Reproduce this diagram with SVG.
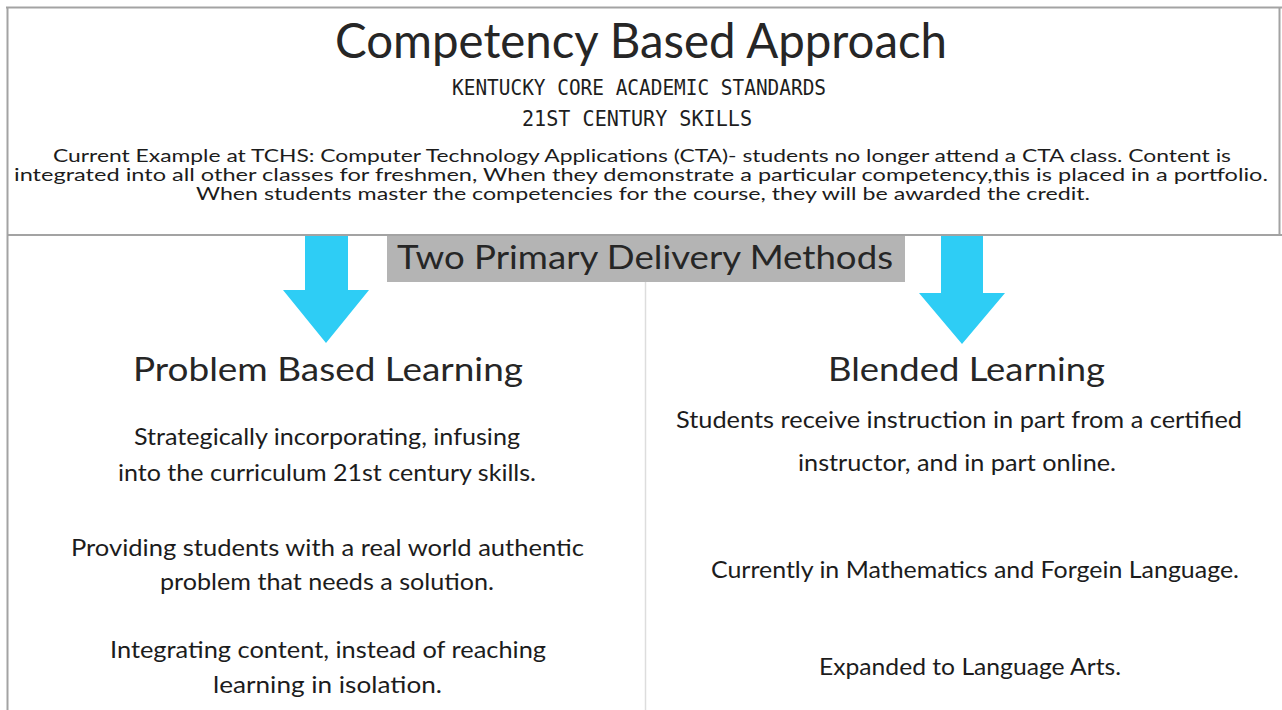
<svg xmlns="http://www.w3.org/2000/svg" width="1282" height="710" viewBox="0 0 1282 710">
  <defs>
    <style>
      .frame { stroke: #a3a3a3; stroke-width: 2; fill: none; }
      .divider { stroke: #dddddd; stroke-width: 1.5; fill: none; }
      .head { font-family: Lato, "Open Sans", "Liberation Sans", sans-serif; fill: #262626; }
      .caps { font-family: "DejaVu Sans Mono", "Liberation Mono", monospace; fill: #1e1e1e; }
      .body { font-family: Lato, "Open Sans", "Liberation Sans", sans-serif; fill: #1c1c1c; }
      .arrow { fill: #2ecdf5; }
    </style>
  </defs>

  <rect width="1282" height="710" fill="#ffffff"/>

  <!-- outer frame and section rules -->
  <g id="frame">
    <line class="frame" x1="6" y1="7.5" x2="1282" y2="7.5"/>
    <line class="frame" x1="7.5" y1="7" x2="7.5" y2="710" stroke-width="1.5"/>
    <line class="frame" x1="1279.5" y1="7" x2="1279.5" y2="235" stroke-width="1.5"/>
    <line class="frame" x1="7" y1="235" x2="1282" y2="235"/>
    <line class="divider" x1="645.5" y1="282" x2="645.5" y2="710"/>
  </g>

  <!-- header block -->
  <g id="header">
    <text class="head" x="335" y="58" font-size="48" textLength="612" lengthAdjust="spacingAndGlyphs">Competency Based Approach</text>
    <text class="caps" x="452" y="95" font-size="21" textLength="374" lengthAdjust="spacingAndGlyphs">KENTUCKY CORE ACADEMIC STANDARDS</text>
    <text class="caps" x="522" y="126" font-size="21" textLength="230" lengthAdjust="spacingAndGlyphs">21ST CENTURY SKILLS</text>
    <text class="body" x="53" y="162" font-size="18" textLength="1178" lengthAdjust="spacingAndGlyphs">Current Example at TCHS: Computer Technology Applications (CTA)- students no longer attend a CTA class. Content is</text>
    <text class="body" x="14" y="181" font-size="18" textLength="1254" lengthAdjust="spacingAndGlyphs">integrated into all other classes for freshmen, When they demonstrate a particular competency,this is placed in a portfolio.</text>
    <text class="body" x="196" y="200" font-size="18" textLength="894" lengthAdjust="spacingAndGlyphs">When students master the competencies for the course, they will be awarded the credit.</text>
  </g>

  <!-- banner -->
  <g id="banner">
    <rect x="387" y="236" width="518" height="46" fill="#b4b4b4"/>
    <text class="head" x="397" y="269" font-size="33" textLength="496" lengthAdjust="spacingAndGlyphs">Two Primary Delivery Methods</text>
  </g>

  <!-- connectors: arrows to the two methods -->
  <g id="connectors">
    <polygon class="arrow" points="305,236 348,236 348,290 369,290 326,343 283,290 305,290"/>
    <polygon class="arrow" points="941,236 983,236 983,293 1005,293 962,344 919,293 941,293"/>
  </g>

  <!-- left method -->
  <g id="problem-based">
    <text class="head" x="133" y="381" font-size="33" textLength="390" lengthAdjust="spacingAndGlyphs">Problem Based Learning</text>
    <text class="body" x="134" y="445" font-size="24" textLength="386" lengthAdjust="spacingAndGlyphs">Strategically incorporating, infusing</text>
    <text class="body" x="118" y="481" font-size="24" textLength="418" lengthAdjust="spacingAndGlyphs">into the curriculum 21st century skills.</text>
    <text class="body" x="71" y="556" font-size="24" textLength="513" lengthAdjust="spacingAndGlyphs">Providing students with a real world authentic</text>
    <text class="body" x="160" y="590" font-size="24" textLength="334" lengthAdjust="spacingAndGlyphs">problem that needs a solution.</text>
    <text class="body" x="110" y="658" font-size="24" textLength="436" lengthAdjust="spacingAndGlyphs">Integrating content, instead of reaching</text>
    <text class="body" x="213" y="693" font-size="24" textLength="229" lengthAdjust="spacingAndGlyphs">learning in isolation.</text>
  </g>

  <!-- right method -->
  <g id="blended">
    <text class="head" x="828" y="381" font-size="33" textLength="277" lengthAdjust="spacingAndGlyphs">Blended Learning</text>
    <text class="body" x="676" y="428" font-size="24" textLength="566" lengthAdjust="spacingAndGlyphs">Students receive instruction in part from a certified</text>
    <text class="body" x="798" y="471" font-size="24" textLength="318" lengthAdjust="spacingAndGlyphs">instructor, and in part online.</text>
    <text class="body" x="711" y="578" font-size="24" textLength="528" lengthAdjust="spacingAndGlyphs">Currently in Mathematics and Forgein Language.</text>
    <text class="body" x="819" y="675" font-size="24" textLength="302" lengthAdjust="spacingAndGlyphs">Expanded to Language Arts.</text>
  </g>
</svg>
